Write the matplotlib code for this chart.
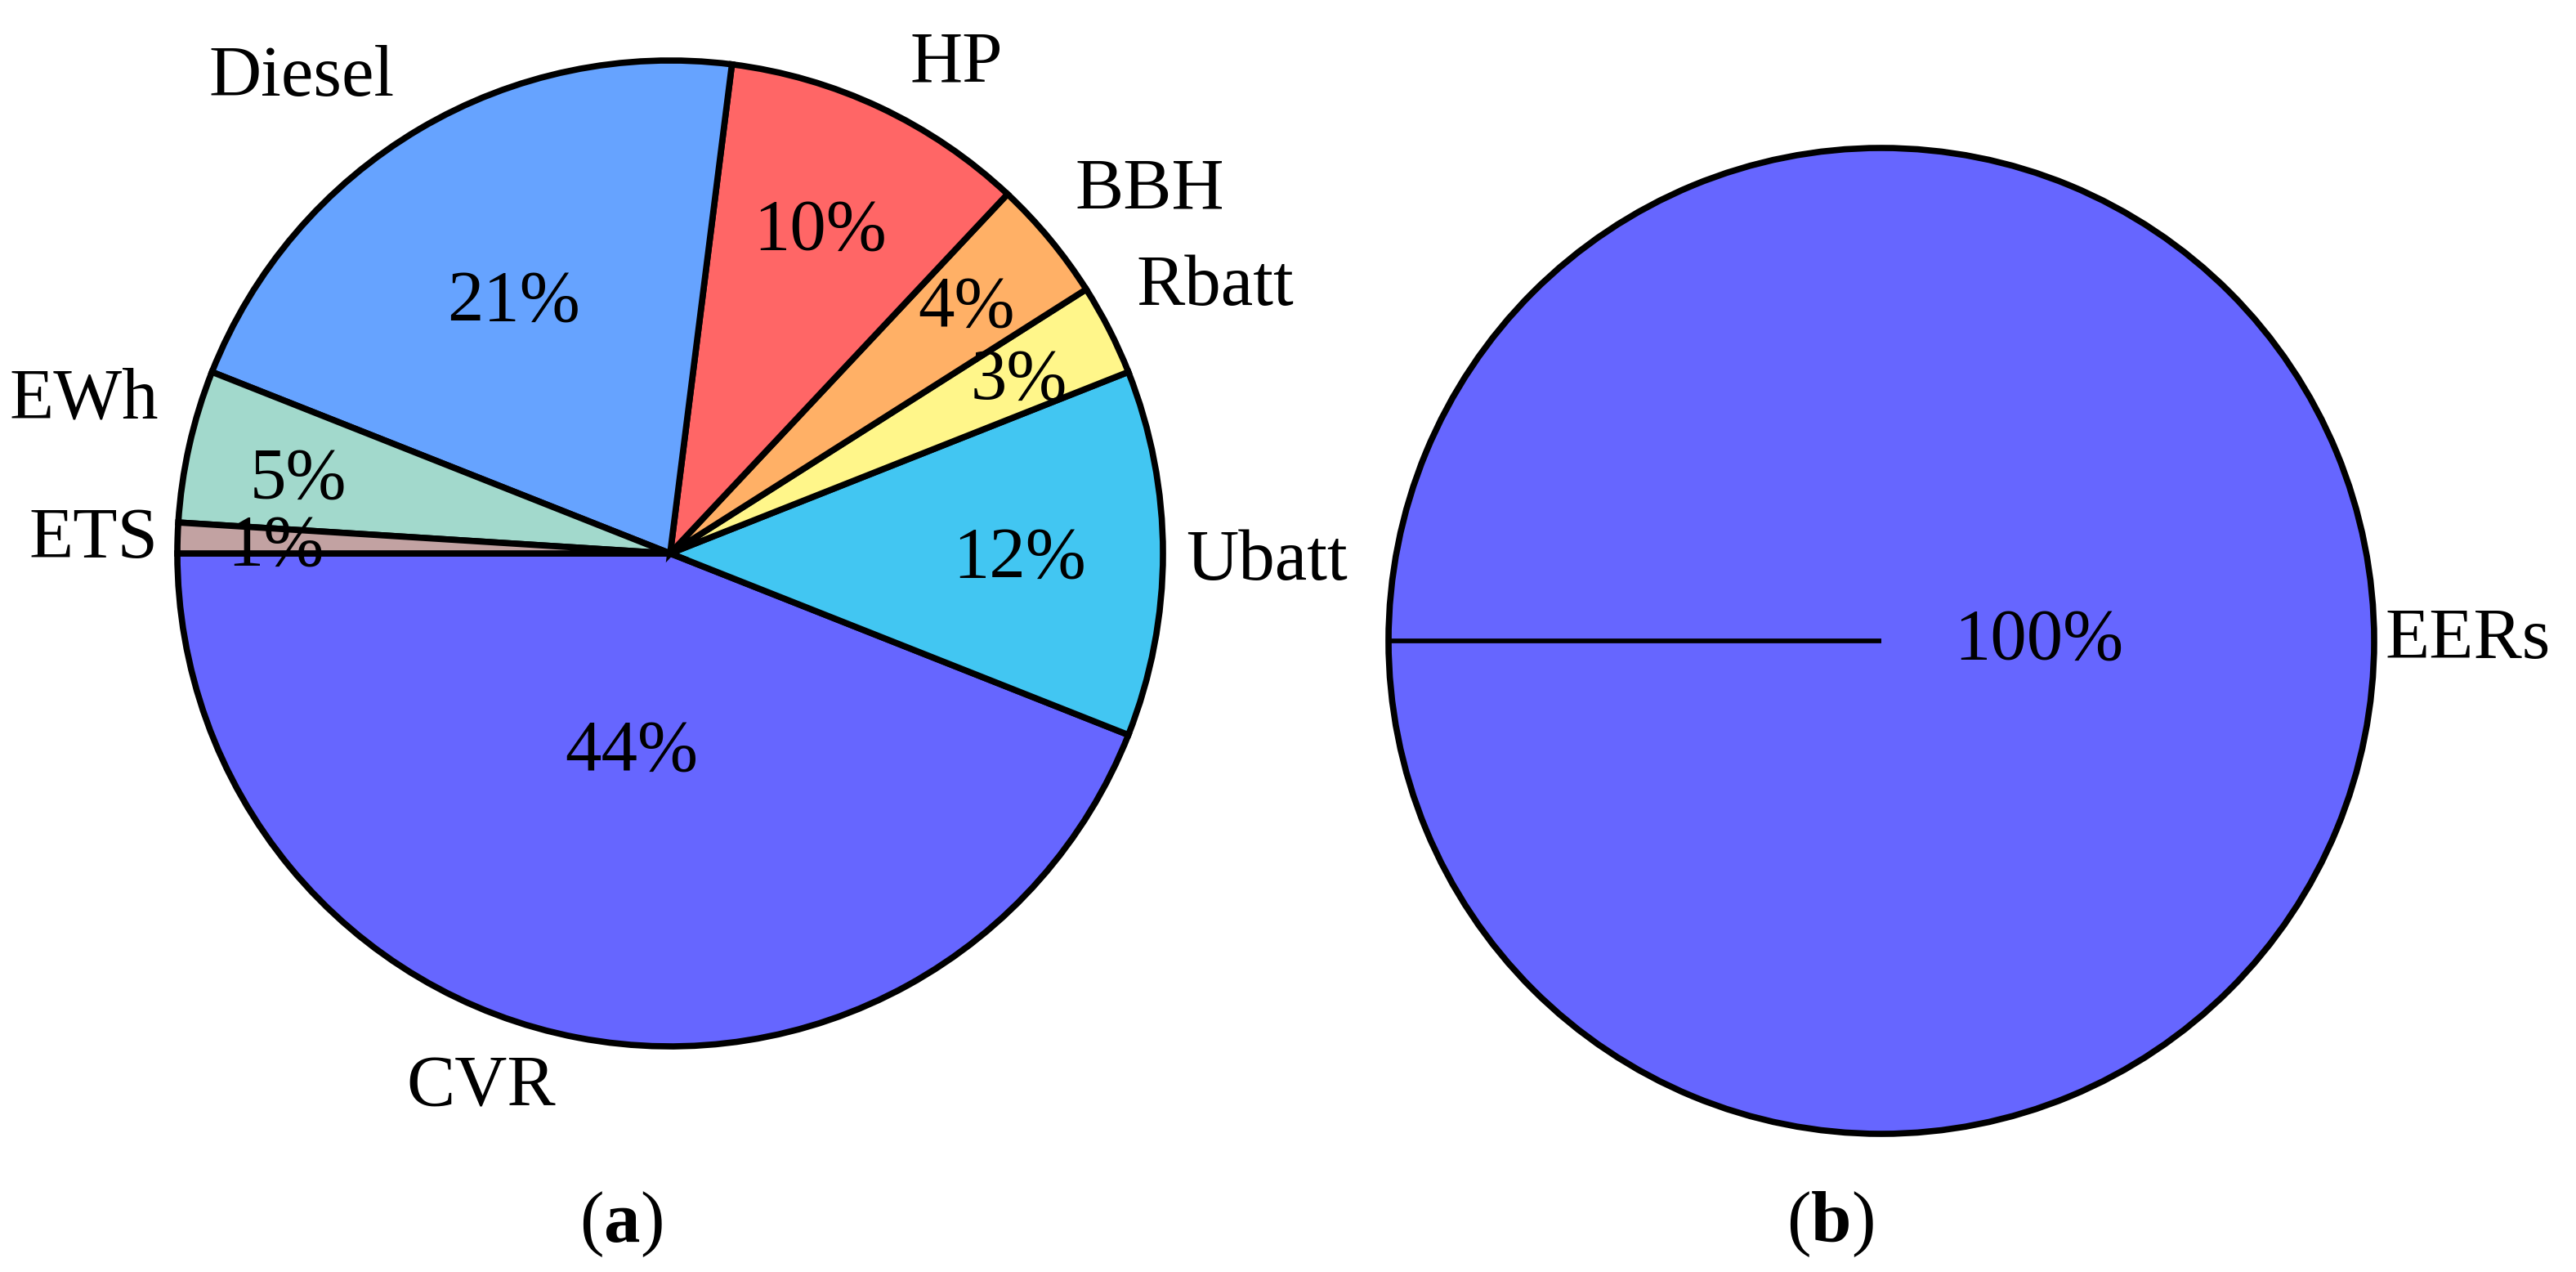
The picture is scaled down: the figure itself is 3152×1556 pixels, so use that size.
import numpy as np
import matplotlib
matplotlib.use("Agg")
import matplotlib.pyplot as plt

# ---- data ----
cats_a = ["CVR", "Ubatt", "Rbatt", "BBH", "HP", "Diesel", "EWh", "ETS"]
vals_a = [44, 12, 3, 4, 10, 21, 5, 1]
cats_b = ["EERs"]
vals_b = [100]

# ---- style ----
colors_a = ["#6666FF", "#42C6F2", "#FFF68A", "#FFB066", "#FF6666", "#66A3FF", "#A2D9CC", "#C2A2A2"]
colors_b = ["#6666FF"]
# text placement (radius fraction, angle deg) for labels and percentages
lab_pos_a = [(1.15, 250.5), (1.21, -0.8), (1.23, 26.0), (1.22, 37.1), (1.15, 59.7), (1.22, 127.8), (1.23, 165.4), (1.17, 178.7)]
pct_pos_a = [(0.41, 259.0), (0.71, -1.0), (0.79, 26.3), (0.78, 39.6), (0.72, 65.0), (0.60, 121.9), (0.77, 168.8), (0.80, 179.0)]
lab_pos_b = [(1.19, 0.0)]
pct_pos_b = [(0.32, 0.0)]

plt.rcParams['font.family'] = ['Liberation Serif', 'DejaVu Serif']
plt.rcParams['mathtext.fontset'] = 'custom'
plt.rcParams['mathtext.rm'] = 'Liberation Serif'
plt.rcParams['mathtext.bf'] = 'Liberation Serif:bold'

W, H = 3152, 1556
fig = plt.figure(figsize=(W / 100, H / 100), dpi=100)
FS = 64
LW = 5.5

def make_axes(cx, cy, r):
    return fig.add_axes([(cx - r) / W, (H - cy - r) / H, 2 * r / W, 2 * r / H])

def draw(ax, vals, cats, colors, lab_pos, pct_pos):
    wedges, _ = ax.pie(vals, colors=colors, startangle=180, counterclock=True, radius=1,
                       wedgeprops=dict(edgecolor="black", linewidth=LW))
    if len(vals) == 1:
        w = wedges[0]
        t = np.radians(w.theta1)
        ax.plot([w.center[0], w.center[0] + w.r * np.cos(t)],
                [w.center[1], w.center[1] + w.r * np.sin(t)],
                color="black", lw=LW * 0.75, solid_capstyle="butt")
    ax.set_xlim(-1, 1)
    ax.set_ylim(-1, 1)
    ax.set_aspect("equal")
    ax.axis("off")
    for c, v, (lr, la), (pr, pa) in zip(cats, vals, lab_pos, pct_pos):
        ax.text(lr * np.cos(np.radians(la)), lr * np.sin(np.radians(la)), c,
                ha="center", va="center", fontsize=FS, clip_on=False)
        ax.text(pr * np.cos(np.radians(pa)), pr * np.sin(np.radians(pa)), f"{v:.0f}%",
                ha="center", va="center", fontsize=FS, clip_on=False)

R = 603
ax1 = make_axes(820, 677, R)
draw(ax1, vals_a, cats_a, colors_a, lab_pos_a, pct_pos_a)
ax2 = make_axes(2302, 784, R)
draw(ax2, vals_b, cats_b, colors_b, lab_pos_b, pct_pos_b)

fig.text(760 / W, 1 - 1498 / H, r"($\mathbf{a}$)", ha="center", va="center", fontsize=FS)
fig.text(2239 / W, 1 - 1498 / H, r"($\mathbf{b}$)", ha="center", va="center", fontsize=FS)

fig.savefig("out.png", dpi=100, facecolor="white")
